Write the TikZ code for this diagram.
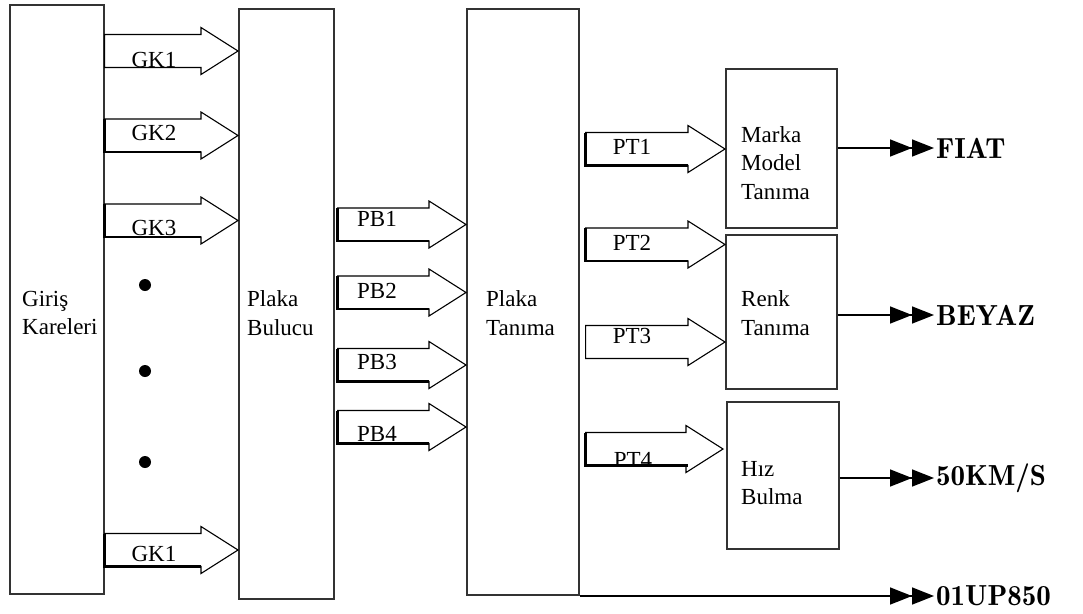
\documentclass[tikz,border=0pt]{standalone}
\usepackage{fontspec}
\setmainfont{Liberation Serif}
\usepackage{tikz}
\usetikzlibrary{arrows.meta, calc, positioning}

\begin{document}
\begin{tikzpicture}[
      x=1pt, y=-1pt,
      box/.style={rectangle, draw=black!80, line width=1.6pt, anchor=north west, inner sep=0pt},
      boxtext/.style={anchor=west, inner sep=0pt, align=left, font=\fontsize{23}{28.5}\selectfont},
      lbl/.style={inner sep=0pt, font=\fontsize{23}{28}\selectfont},
      outtext/.style={anchor=west, inner sep=2pt, font=\fontfamily{lmr}\bfseries\fontsize{29}{34}\selectfont},
      outarr/.style={line width=1.6pt, -{Triangle[length=22pt,width=17pt]Triangle[length=22pt,width=17pt]}},
      dot/.style={circle, fill, inner sep=0pt, minimum size=12pt},
      % hollow block arrow between two frames
      fat/.style={draw, line width=1.1pt, line join=miter, to path={
          let \p1=(\tikztostart), \p2=(\tikztotarget) in
          ({\x1+#1},{\y1+16.5pt}) -- ({\x2-37pt},{\y1+16.5pt}) -- ({\x2-37pt},{\y1+23.5pt})
          -- (\x2,\y1) -- ({\x2-37pt},{\y1-23.5pt}) -- ({\x2-37pt},{\y1-16.5pt})
          -- ({\x1+#1},{\y1-16.5pt}) -- cycle}},
      fat/.default=0pt,
      % heavier left and lower edge of a block arrow
      fatrim/.style={draw, line width=2.8pt, to path={
          let \p1=(\tikztostart), \p2=(\tikztotarget) in
          ({\x1+#1},{\y1+16.5pt}) -- ({\x1+#1},{\y1-16.5pt}) -- ({\x2-37pt},{\y1-16.5pt})}},
      fatrim/.default=0pt
    ]
    \useasboundingbox (0,0) rectangle (1083,613);

    % frames
    \node[box, minimum width=94pt, minimum height=589pt] (gk) at (9,4) {};
    \node[box, minimum width=95pt, minimum height=590pt] (pb) at (238,8) {};
    \node[box, minimum width=112pt, minimum height=586pt] (pt) at (466,8) {};
    \node[box, minimum width=111pt, minimum height=159pt] (mm) at (725,68) {};
    \node[box, minimum width=111pt, minimum height=154pt] (rt) at (725,234) {};
    \node[box, minimum width=112pt, minimum height=147pt] (hb) at (726,401) {};

    \node[boxtext] (gk-t) at (22,313) {Giriş\\Kareleri};
    \node[boxtext] (pb-t) at (247,313) {Plaka\\Bulucu};
    \node[boxtext] (pt-t) at (486,313) {Plaka\\Tanıma};
    \node[boxtext] (mm-t) at (741,163) {Marka\\Model\\Tanıma};
    \node[boxtext] (rt-t) at (741,313) {Renk\\Tanıma};
    \node[boxtext] (hb-t) at (741,483) {Hız\\Bulma};

    % dots between the frame inputs
    \foreach \h [count=\i] in {285, 371, 462}
      \node[dot] (d\i) at (145,\h) {};

    % block arrows
    \foreach \h in {51, 135.5, 220.5, 550}
      \draw[fat] (gk.east |- 0,\h) to (pb.west |- 0,\h);
    \foreach \h in {135.5, 220.5, 550}
      \draw[fatrim] (gk.east |- 0,\h) to (pb.west |- 0,\h);
    \foreach \h in {224.5, 292.5, 365, 427}
      \draw[fat=3pt] (pb.east |- 0,\h) to (pt.west |- 0,\h);
    \foreach \h in {224.5, 292.5, 365, 427}
      \draw[fatrim=3pt] (pb.east |- 0,\h) to (pt.west |- 0,\h);
    \draw[fat=6pt] (pt.east |- 0,149) to (mm.west |- 0,149);
    \draw[fat=6pt] (pt.east |- 0,244.5) to (rt.west |- 0,244.5);
    \draw[fat=6pt] (pt.east |- 0,342) to (rt.west |- 0,342);
    \draw[fat=6pt] (pt.east |- 0,449) to ([xshift=-3pt]hb.west |- 0,449);
    \foreach \h in {149, 244.5, 449}
      \draw[fatrim=6pt] (pt.east |- 0,\h) to (mm.west |- 0,\h);

    \foreach \px/\py/\t in {154/60/GK1, 154/133/GK2, 154/228/GK3, 154/554/GK1,
                          377/219/PB1, 377/291/PB2, 377/362/PB3, 377/434/PB4,
                          632/147/PT1, 632/243/PT2, 632/336/PT3, 633/460/PT4}
      \node[lbl] at (\px,\py) {\t};

    % results
    \node[outtext] (fiat) at (934,148) {FIAT};
    \node[outtext] (beyaz) at (934,315) {BEYAZ};
    \node[outtext] (speed) at (934,478) {50KM/S};
    \node[outtext] (plate) at (934,596) {01UP850};

    \draw[outarr] (mm.east |- fiat) -- (fiat);
    \draw[outarr] (rt.east |- beyaz) -- (beyaz);
    \draw[outarr] (hb.east |- speed) -- (speed);
    \draw[outarr] (pt.south east |- plate) -- (plate);
  \end{tikzpicture}
\end{document}
